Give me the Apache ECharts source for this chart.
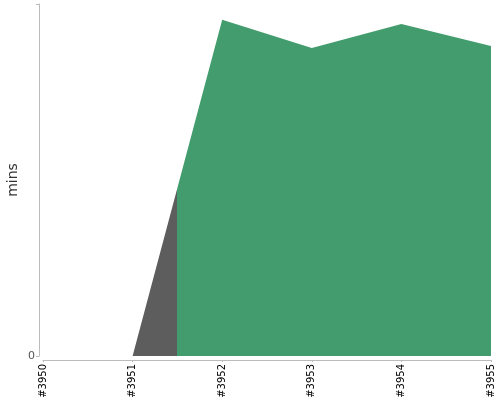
<!DOCTYPE html>
<html>
<head>
<meta charset="utf-8">
<script src="https://cdn.jsdelivr.net/npm/echarts@6/dist/echarts.min.js"></script>
<style>html,body{margin:0;padding:0;background:#fff}#c{width:500px;height:400px}</style>
</head>
<body>
<div id="c"></div>
<script>
const categories = ['#3950', '#3951', '#3952', '#3953', '#3954', '#3955'];
const values = [0, 0, 95.5, 87.5, 94.3, 88.1];
const yMax = 100;
const yTickLabels = ['0'];

const seriesData = values.map(function (v, i) { return [i, v]; });

const chart = echarts.init(document.getElementById('c'), null, {renderer: 'canvas'});
chart.setOption({
  animation: false,
  grid: {left: 43, right: 9, top: 4, bottom: 44, containLabel: false, outerBoundsMode: 'none'},
  visualMap: {
    show: false,
    type: 'piecewise',
    dimension: 0,
    seriesIndex: 0,
    pieces: [
      {gte: 0, lte: 1.5, color: '#5d5d5d'},
      {gt: 1.5, lte: 5, color: '#439c6d'}
    ]
  },
  xAxis: {
    type: 'value',
    position: 'bottom',
    min: 0,
    max: categories.length - 1,
    interval: 1,
    offset: 4,
    splitLine: {show: false},
    axisLine: {onZero: false, lineStyle: {color: '#bbbbbb', width: 1}},
    axisTick: {show: true, length: 2, lineStyle: {color: '#bbbbbb'}},
    axisLabel: {
      rotate: 90, fontSize: 10, color: '#000', margin: 4, fontFamily: 'DejaVu Sans',
      showMinLabel: true, showMaxLabel: true,
      formatter: function (v) { return categories[Math.round(v)] || ''; }
    }
  },
  yAxis: {
    type: 'value',
    position: 'left',
    min: 0,
    max: yMax,
    interval: yMax,
    offset: 4,
    name: 'mins',
    nameLocation: 'middle',
    nameGap: 19,
    nameMoveOverlap: false,
    nameTextStyle: {fontSize: 14, color: '#333', fontFamily: 'DejaVu Sans'},
    axisLine: {show: true, onZero: false, lineStyle: {color: '#bbbbbb', width: 1}},
    axisTick: {show: true, length: 3, lineStyle: {color: '#bbbbbb'}},
    splitLine: {show: false},
    axisLabel: {
      fontSize: 11, color: '#555', margin: 4, fontFamily: 'DejaVu Sans',
      formatter: function (v) { return v === 0 ? yTickLabels[0] : ''; }
    }
  },
  series: [{
    type: 'line',
    data: seriesData,
    symbol: 'none',
    lineStyle: {width: 0},
    areaStyle: {opacity: 1}
  }]
});
</script>
</body>
</html>
